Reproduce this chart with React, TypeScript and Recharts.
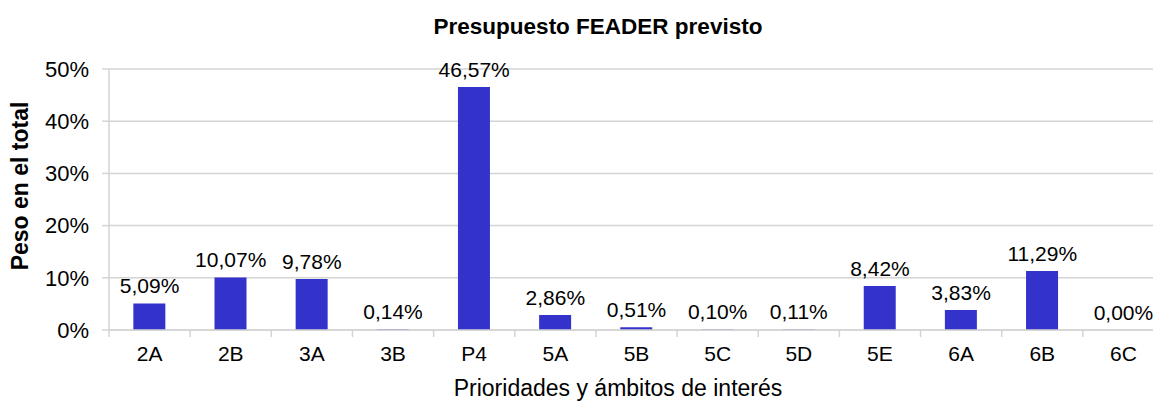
import React from 'react';
import { ComposedChart, Bar, Line, XAxis, YAxis, CartesianGrid, LabelList, Label } from 'recharts';

const categories = ['2A', '2B', '3A', '3B', 'P4', '5A', '5B', '5C', '5D', '5E', '6A', '6B', '6C'];
const shares = [5.09, 10.07, 9.78, 0.14, 46.57, 2.86, 0.51, 0.1, 0.11, 8.42, 3.83, 11.29, 0.0];
const yTicks = [0, 10, 20, 30, 40, 50];

const data = categories.map((cat, i) => ({ cat, value: shares[i] }));

const FONT = '"Liberation Sans", Arial, sans-serif';
const GRID = '#d4d4d4';
const TICK_GAP = 16;

const fmt = (v: number) => v.toFixed(2).replace('.', ',') + '%';

// category label plus a tick mark on the band boundary (Excel style)
const CategoryTick = (props: any) => {
  const { x, y, payload, index } = props;
  const half = payload?.offset ?? 0;
  const y0 = y - TICK_GAP;
  const isLast = index === categories.length - 1;
  return (
    <g>
      <line x1={x - half} x2={x - half} y1={y0} y2={y0 + 7} stroke={GRID} strokeWidth={1.5} />
      {isLast && <line x1={x + half} x2={x + half} y1={y0} y2={y0 + 7} stroke={GRID} strokeWidth={1.5} />}
      <text x={x} y={y} dy="0.71em" textAnchor="middle" fill="#000" fontSize={21} fontFamily={FONT}>
        {payload.value}
      </text>
    </g>
  );
};

const App: React.FC = () => {
  return (
    <div style={{ position: 'absolute', left: 0, top: 0, width: 1153, height: 403, overflow: 'hidden', background: '#fff', fontFamily: FONT }}>
      <ComposedChart
        width={1180}
        height={403}
        data={data}
        margin={{ top: 69, right: 16, bottom: 0, left: 0 }}
        barCategoryGap="30%"
      >
        <text x={598} y={34} textAnchor="middle" fontFamily={FONT} fontSize={22.5} fontWeight="bold" fill="#000">
          Presupuesto FEADER previsto
        </text>
        <CartesianGrid vertical={false} stroke={GRID} strokeWidth={1.5} />
        <XAxis
          dataKey="cat"
          height={73}
          tickSize={0}
          tickMargin={TICK_GAP}
          axisLine={{ stroke: GRID, strokeWidth: 1.5 }}
          tickLine={false}
          tick={<CategoryTick />}
        >
          <Label
            content={() => (
              <text x={618} y={396} textAnchor="middle" fontFamily={FONT} fontSize={23} fill="#000">
                Prioridades y ámbitos de interés
              </text>
            )}
          />
        </XAxis>
        <YAxis
          width={109}
          domain={[0, 50]}
          ticks={yTicks}
          tickFormatter={(v: number) => `${v}%`}
          tickSize={7}
          tickMargin={13}
          axisLine={{ stroke: GRID, strokeWidth: 1.5 }}
          tickLine={{ stroke: GRID, strokeWidth: 1.5 }}
          tick={{ fill: '#000', fontSize: 22, fontFamily: FONT }}
        >
          <Label
            content={() => (
              <text
                x={28}
                y={186}
                textAnchor="middle"
                transform="rotate(-90, 28, 186)"
                fontFamily={FONT}
                fontSize={23}
                fontWeight="bold"
                fill="#000"
              >
                Peso en el total
              </text>
            )}
          />
        </YAxis>
        <Bar dataKey="value" fill="#3333CC" isAnimationActive={false} />
        <Line dataKey="value" stroke="none" dot={false} activeDot={false} isAnimationActive={false}>
          <LabelList
            dataKey="value"
            position="top"
            offset={10}
            formatter={(v: any) => fmt(Number(v))}
            style={{ fill: '#000', fontSize: 21, fontFamily: FONT }}
          />
        </Line>
      </ComposedChart>
    </div>
  );
};

export default App;
